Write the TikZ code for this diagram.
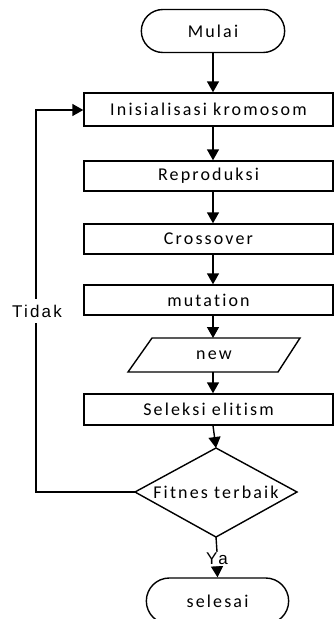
\documentclass[tikz,border=0pt]{standalone}
\usepackage{fontspec}
\setmainfont{Carlito}[LetterSpace=12,Ligatures=NoCommon]
\newfontfamily\labelfont{Liberation Sans}[LetterSpace=13]
\usetikzlibrary{shapes.geometric,shapes.misc,arrows.meta}
\begin{document}
\begin{tikzpicture}[x=1pt,y=-1pt,
  every node/.style={font=\fontsize{18}{21}\selectfont},
  procbox/.style={draw,line width=1.4pt,minimum height=31pt,inner sep=0pt},
  flow/.style={line width=1.4pt,-{Triangle[length=11pt,width=12pt]}},
  plain/.style={line width=1.4pt},
  lbl/.style={font=\labelfont\fontsize{17}{20}\selectfont,inner sep=1pt}]
\clip (0,0) rectangle (334,619);
\useasboundingbox (0,0) rectangle (334,619);
% terminators
\node[draw,line width=1.4pt,rounded rectangle,minimum width=150pt,minimum height=43pt] (start) at (213,31) {Mulai};
\node[draw,line width=1.4pt,rounded rectangle,minimum width=149pt,minimum height=46pt] (stop) at (217.5,601) {selesai};
% process boxes
\node[procbox,minimum width=249pt,minimum height=33pt] (init) at (208.5,109.5) {Inisialisasi kromosom};
\node[procbox,minimum width=249pt,minimum height=30pt] (repro) at (208.5,176) {Reproduksi};
\node[procbox,minimum width=249pt,minimum height=30pt] (cross) at (208.5,239) {Crossover};
\node[procbox,minimum width=249pt,minimum height=30pt] (mut) at (208.5,300) {mutation};
\node[procbox,minimum width=249pt,minimum height=31pt] (sel) at (208.5,409.5) {Seleksi elitism};
% data (parallelogram)
\coordinate (nTL) at (152,338);
\coordinate (nTR) at (300,338);
\coordinate (nBR) at (278,372);
\coordinate (nBL) at (128,372);
\draw[plain] (nTL) -- (nTR) -- (nBR) -- (nBL) -- cycle;
\node (new) at (214,355) {new};
% decision
\coordinate (dT) at (216,448);
\coordinate (dR) at (297,492);
\coordinate (dB) at (216,537);
\coordinate (dL) at (135,492);
\draw[plain] (dT) -- (dR) -- (dB) -- (dL) -- cycle;
\node (fit) at (216,492) {Fitnes terbaik};
% main flow
\draw[flow] (start.south -| 213,0) -- (init.north -| 213,0);
\draw[flow] (init.south -| 213,0) -- (repro.north -| 213,0);
\draw[flow] (repro.south -| 213,0) -- (cross.north -| 213,0);
\draw[flow] (cross.south -| 213,0) -- (mut.north -| 213,0);
\draw[flow] (mut.south -| 213,0) -- (nTL -| 213,0);
\draw[flow] (nBL -| 213,0) -- (sel.north -| 213,0);
\draw[flow] (sel.south -| 213,0) -- (dT);
% yes branch
\node[lbl] (ya) at (217,559) {Ya};
\draw[plain] (dB) -- (ya.north);
\draw[flow] (ya.south) -- (stop.north);
% no branch loops back
\node[lbl,inner sep=6pt] (tidak) at (37,311) {Tidak};
\coordinate (c1) at (36,492);
\coordinate (c2) at (36,110);
\draw[plain] (dL) -- (c1) -- (tidak.south -| c1);
\draw[flow] (tidak.north -| c2) -- (c2) -- (init.west |- c2);
\end{tikzpicture}
\end{document}
